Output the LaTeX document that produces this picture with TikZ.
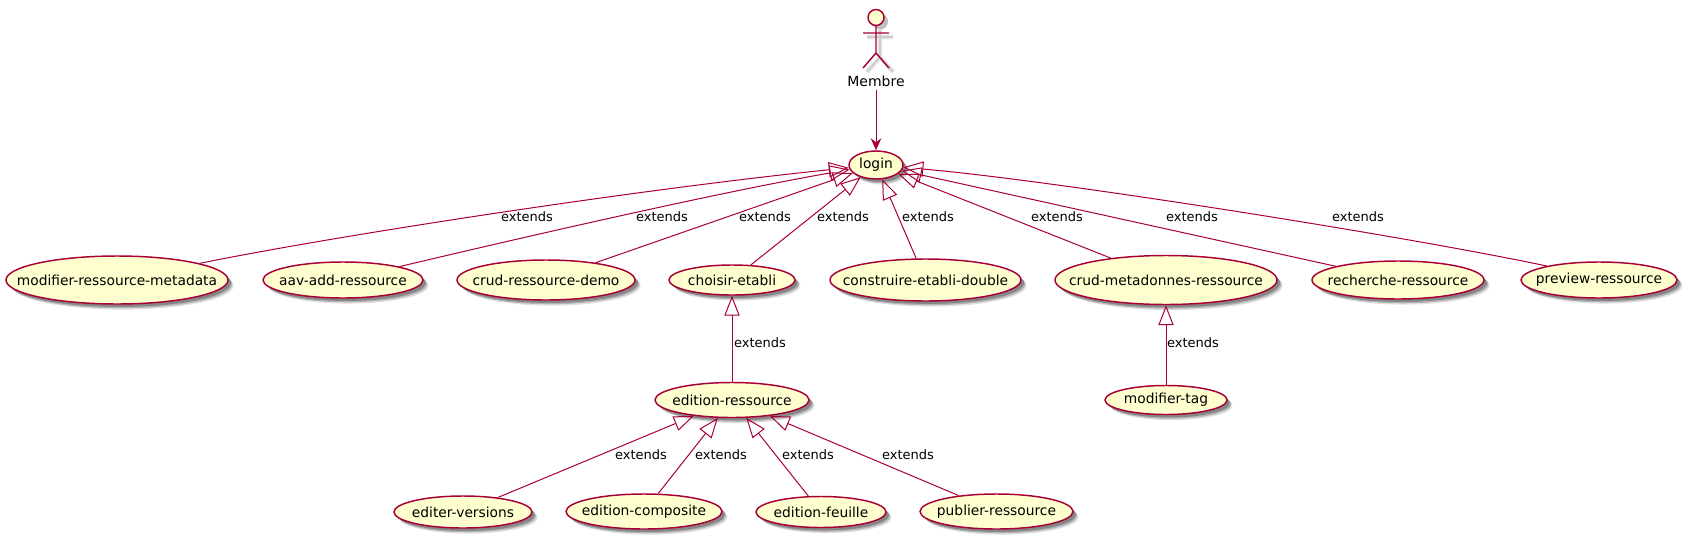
\documentclass[tikz,border=0pt]{standalone}
\usepackage{fontspec}
\setmainfont{DejaVu Sans}
\usetikzlibrary{arrows.meta,shadows,shapes.geometric}
\definecolor{umlred}{HTML}{A80036}
\definecolor{umlcream}{HTML}{FEFECE}

\def\actorhead{(876,17.5) circle (8)}
\def\actorlimbs{(876,25.5) -- (876,53) (863,33) -- (889,33) (863,68) -- (876,53) -- (889,68)}
% the ellipse takes its size from the style, not from the text
\newcommand{\uctext}[1]{\hbox to 0pt{\hss #1\hss}}

\tikzset{
  ucase/.style 2 args={ellipse, draw=umlred, fill=umlcream, line width=1.1pt, inner sep=0pt,
    minimum width=#1*0.75pt, minimum height=#2*0.75pt, font=\fontsize{10.35pt}{12pt}\selectfont,
    general shadow={shadow xshift=2.2pt, shadow yshift=-2.2pt, fill=black, opacity=.25},
    general shadow={shadow xshift=3.2pt, shadow yshift=-3.2pt, fill=black, opacity=.2},
    general shadow={shadow xshift=4.2pt, shadow yshift=-4.2pt, fill=black, opacity=.12}},
  extlabel/.style={font=\fontsize{9.75pt}{12pt}\selectfont, inner sep=0pt},
  extends/.style={draw=umlred, line width=.75pt, -{Triangle[open,length=15pt,width=11.5pt]}}
}

\begin{document}
\begin{tikzpicture}[x=0.75pt,y=-0.75pt]
    \useasboundingbox (0,0) rectangle (1687,539);

    % the actor, its shadow first
    \begin{scope}[shift={(4,4)}]
      \draw[black!9, line width=3.6pt] \actorlimbs;
      \draw[black!20, line width=1.4pt] \actorlimbs;
      \fill[black!25] \actorhead;
    \end{scope}
    \draw[umlred, fill=umlcream, line width=1.1pt] \actorhead;
    \draw[umlred, line width=1.1pt] \actorlimbs;
    \node [font=\fontsize{10.5pt}{12pt}\selectfont, inner sep=2.2pt] (membre) at (876,81) {Membre};

    \node [ucase={54}{28}] (login) at (876,165) {\uctext{login}};

    \node [ucase={222}{48}] (metadata) at (117,280) {\uctext{modifier-ressource-metadata}};
    \node [ucase={160}{36}] (aav) at (343,280) {\uctext{aav-add-ressource}};
    \node [ucase={178}{40}] (demo) at (546,280) {\uctext{crud-ressource-demo}};
    \node [ucase={126}{30}] (etabli) at (732,280) {\uctext{choisir-etabli}};
    \node [ucase={191}{42}] (double) at (925.5,280) {\uctext{construire-etabli-double}};
    \node [ucase={222}{49}] (metadonnes) at (1166,280) {\uctext{crud-metadonnes-ressource}};
    \node [ucase={172}{38}] (recherche) at (1398,280) {\uctext{recherche-ressource}};
    \node [ucase={156}{36}] (preview) at (1599,280) {\uctext{preview-ressource}};

    \node [ucase={154}{35}] (edition) at (732,400) {\uctext{edition-ressource}};
    \node [ucase={122}{29}] (tag) at (1166,400) {\uctext{modifier-tag}};

    \node [ucase={138}{32}] (versions) at (463,512) {\uctext{editer-versions}};
    \node [ucase={156}{35}] (composite) at (644,511.5) {\uctext{edition-composite}};
    \node [ucase={130}{31}] (feuille) at (821,512) {\uctext{edition-feuille}};
    \node [ucase={153}{35}] (publier) at (996.5,511.5) {\uctext{publier-ressource}};

    \draw[draw=umlred, line width=.75pt, -{Stealth[length=9pt,width=8pt,inset=3pt]}] (membre) -- (login);

    % first row up to login
    \draw[extends] (metadata) .. controls (350,233) and (650,188) .. (login);
    \draw[extends] (aav) .. controls (520,238) and (720,192) .. (login);
    \draw[extends] (demo) -- (login);
    \draw[extends] (etabli) -- (login);
    \draw[extends] (double) -- (login);
    \draw[extends] (metadonnes) -- (login);
    \draw[extends] (recherche) -- (login);
    \draw[extends] (preview.165) .. controls (1400,235) and (1050,180) .. (login);

    \draw[extends] (edition) -- (etabli);
    \draw[extends] (tag) -- (metadonnes);

    \draw[extends] (versions) -- (edition);
    \draw[extends] (composite) -- (edition);
    \draw[extends] (feuille) -- (edition);
    \draw[extends] (publier) -- (edition);

    \node [extlabel] (lmetadata) at (527,217) {extends};
    \node [extlabel] (laav) at (662,217) {extends};
    \node [extlabel] (ldemo) at (765,217) {extends};
    \node [extlabel] (letabli) at (843,217) {extends};
    \node [extlabel] (ldouble) at (928,217) {extends};
    \node [extlabel] (lmetadonnes) at (1057,217) {extends};
    \node [extlabel] (lrecherche) at (1192,217) {extends};
    \node [extlabel] (lpreview) at (1358,217) {extends};
    \node [extlabel] (ledition) at (760,343) {extends};
    \node [extlabel] (ltag) at (1193,343) {extends};
    \node [extlabel] (lversions) at (641,455) {extends};
    \node [extlabel] (lcomposite) at (721,455) {extends};
    \node [extlabel] (lfeuille) at (808,455) {extends};
    \node [extlabel] (lpublier) at (908,455) {extends};
\end{tikzpicture}
\end{document}
